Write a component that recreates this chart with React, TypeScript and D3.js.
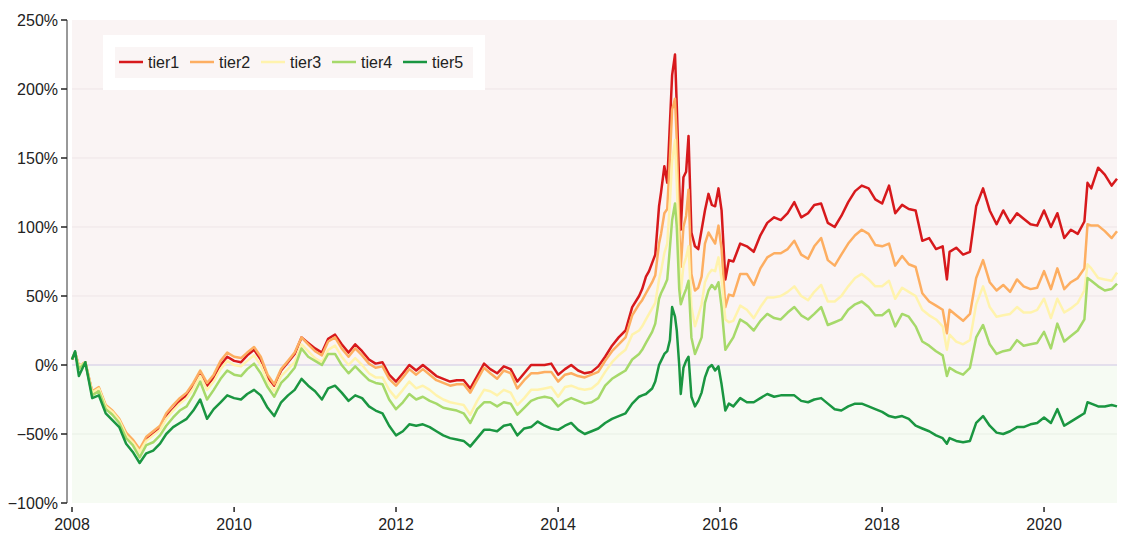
import React from "react";
import * as d3 from "d3";

const dates: string[] = [
  "2008-01-01","2008-01-15","2008-02-01","2008-03-01","2008-04-01","2008-05-01","2008-06-01","2008-07-01","2008-08-01","2008-09-01","2008-10-01","2008-11-01","2008-12-01",
  "2009-01-01","2009-02-01","2009-03-01","2009-04-01","2009-05-01","2009-06-01","2009-07-01","2009-08-01","2009-09-01","2009-10-01","2009-11-01","2009-12-01",
  "2010-01-01","2010-02-01","2010-03-01","2010-04-01","2010-05-01","2010-06-01","2010-07-01","2010-08-01","2010-09-01","2010-10-01","2010-11-01","2010-12-01",
  "2011-01-01","2011-02-01","2011-03-01","2011-04-01","2011-05-01","2011-06-01","2011-07-01","2011-08-01","2011-09-01","2011-10-01","2011-11-01","2011-12-01",
  "2012-01-01","2012-02-01","2012-03-01","2012-04-01","2012-05-01","2012-06-01","2012-07-01","2012-08-01","2012-09-01","2012-10-01","2012-11-01","2012-12-01",
  "2013-01-01","2013-02-01","2013-03-01","2013-04-01","2013-05-01","2013-06-01","2013-07-01","2013-08-01","2013-09-01","2013-10-01","2013-11-01","2013-12-01",
  "2014-01-01","2014-02-01","2014-03-01","2014-04-01","2014-05-01","2014-06-01","2014-07-01","2014-08-01","2014-09-01","2014-10-01","2014-11-01","2014-12-01",
  "2015-01-01","2015-01-15","2015-02-01","2015-02-15","2015-03-01","2015-03-15","2015-04-01","2015-04-10","2015-04-25","2015-05-08","2015-05-20","2015-05-30","2015-06-12","2015-06-20","2015-07-01","2015-07-08","2015-07-20","2015-08-01","2015-08-12","2015-08-25","2015-09-10","2015-09-25","2015-10-10","2015-10-25","2015-11-10","2015-11-25","2015-12-10","2015-12-25","2016-01-08","2016-01-25","2016-02-10",
  "2016-03-01","2016-04-01","2016-05-01","2016-06-01","2016-07-01","2016-08-01","2016-09-01","2016-10-01","2016-11-01","2016-12-01",
  "2017-01-01","2017-02-01","2017-03-01","2017-04-01","2017-05-01","2017-06-01","2017-07-01","2017-08-01","2017-09-01","2017-10-01","2017-11-01","2017-12-01",
  "2018-01-01","2018-02-01","2018-03-01","2018-04-01","2018-05-01","2018-06-01","2018-07-01","2018-08-01","2018-09-01","2018-10-01",
  "2018-10-20",
  "2018-11-01","2018-12-01",
  "2019-01-01","2019-02-01","2019-03-01","2019-04-01","2019-05-01","2019-06-01","2019-07-01","2019-08-01","2019-09-01","2019-10-01","2019-11-01","2019-12-01",
  "2020-01-01","2020-02-01","2020-03-01","2020-04-01","2020-05-01","2020-06-01","2020-07-01",
  "2020-07-15",
  "2020-08-01","2020-09-01","2020-10-01","2020-11-01",
  "2020-11-25",
];

const tier1: number[] = [
  4, 9, -1, 2, -20, -17, -30, -34, -40, -50, -55, -62, -54,
  -50, -46, -37, -32, -26, -22, -15, -6, -15, -9, 0, 6,
  3, 2, 7, 11, 4, -9, -15, -4, 2, 8, 20, 16,
  12, 9, 19, 22, 15, 9, 15, 10, 4, 1, 2, -7,
  -12, -6, 0, -4, 0, -4, -8, -10, -12, -11, -11, -17,
  -8, 1, -3, -6, -1, -3, -12, -6, 0, 0, 0, 1,
  -7, -3, 0, -4, -6, -5, -1, 6, 14, 20, 25, 42,
  50, 55, 64, 68, 74, 80, 115, 125, 144, 132, 175, 210, 225, 188, 130, 98, 136, 140, 166, 96, 86, 84, 98, 112, 124, 116, 115, 128, 112, 62, 76,
  75, 88, 86, 82, 94, 103, 107, 105, 110, 118,
  107, 110, 116, 117, 103, 100, 108, 118, 126, 130, 128, 120,
  117, 130, 110, 116, 113, 112, 90, 92, 84, 86,
  62,
  82, 85,
  80, 82, 115, 128, 112, 102, 112, 103, 110, 106, 102, 101,
  112, 100, 110, 92, 98, 95, 104,
  132,
  128, 143, 138, 130,
  135,
];

const tier2: number[] = [
  4, 9, -1, 2, -19, -16, -29, -33, -39, -49, -54, -61, -52,
  -48, -44, -35, -29, -24, -20, -13, -4, -13, -7, 3, 9,
  6, 5, 9, 13, 6, -7, -14, -3, 3, 9, 20, 15,
  10, 7, 17, 20, 12, 6, 12, 7, 1, -2, -1, -10,
  -15, -9, -3, -7, -3, -7, -11, -13, -15, -14, -14, -20,
  -11, -2, -6, -10, -4, -6, -17, -11, -6, -6, -5, -5,
  -12, -7, -6, -8, -9, -7, -5, 3, 10, 15, 20, 36,
  44, 47, 52, 56, 60, 65, 88, 95, 110, 113, 150, 185, 193, 163, 100, 71, 100, 108, 127, 66, 54, 56, 64, 88, 96, 92, 88, 101, 84, 42, 51,
  50, 66, 66, 58, 70, 78, 81, 81, 84, 90,
  80, 77, 86, 92, 76, 72, 80, 88, 94, 98, 95, 87,
  86, 88, 72, 79, 73, 71, 52, 46, 43, 40,
  23,
  40, 36,
  32, 37, 63, 76, 60, 54, 58, 53, 62, 57, 55, 56,
  68, 55, 70, 55, 60, 63, 70,
  102,
  101, 101, 97, 92,
  97,
];

const tier3: number[] = [
  5, 9, -1, 2, -20, -17, -30, -34, -40, -51, -56, -63, -55,
  -51, -47, -39, -33, -28, -24, -17, -8, -18, -12, -3, 3,
  0, -1, 3, 7, 0, -12, -19, -8, -3, 2, 15, 10,
  5, 2, 11, 14, 6, 0, 5, 0, -6, -9, -9, -18,
  -24, -18, -12, -17, -15, -18, -22, -25, -27, -28, -29, -36,
  -26, -18, -19, -22, -18, -20, -29, -24, -18, -18, -17, -16,
  -23, -16, -15, -17, -18, -17, -13, -5, 2, 7, 11, 22,
  25, 28, 33, 37, 41, 45, 62, 68, 81, 88, 118, 148, 163, 132, 78, 52, 72, 78, 86, 42, 28, 36, 44, 60, 66, 69, 68, 78, 62, 33, 31,
  32, 43, 40, 34, 42, 49, 49, 50, 53, 57,
  50, 47, 53, 58, 46, 46, 50, 57, 63, 66, 62, 57,
  57, 61, 48, 56, 53, 50, 40, 36, 33, 28,
  11,
  22, 17,
  15, 18, 44, 57, 42, 35, 36, 37, 42, 38, 38, 40,
  48, 34, 48, 38, 41, 45, 54,
  73,
  70, 63, 62, 61,
  67,
];

const tier4: number[] = [
  4, 9, -3, 2, -22, -19, -32, -36, -42, -53, -58, -67, -58,
  -56, -51, -44, -38, -33, -30, -22, -12, -25, -18, -10, -4,
  -7, -8, -3, 1, -6, -16, -23, -13, -8, -2, 12, 6,
  3, 0, 8, 8, 0, -6, -1, -6, -11, -13, -14, -25,
  -32, -27, -21, -25, -23, -26, -28, -31, -32, -33, -35, -42,
  -32, -27, -27, -30, -27, -28, -36, -31, -26, -24, -23, -24,
  -30, -26, -24, -26, -28, -27, -24, -15, -10, -7, -4, 4,
  8, 11, 16, 20, 24, 30, 48, 52, 57, 62, 85, 105, 117, 100, 55, 44, 50, 55, 61, 20, 8, 14, 20, 45, 54, 58, 55, 60, 42, 11, 15,
  20, 33, 30, 25, 32, 37, 34, 33, 38, 42,
  36, 33, 37, 42, 29, 31, 33, 40, 44, 46, 42, 36,
  36, 40, 28, 37, 35, 28, 17, 14, 10, 7,
  -8,
  -2, -5,
  -7, -2, 20, 29, 15, 8, 10, 11, 18, 14, 15, 16,
  24, 12, 30, 17, 21, 25, 33,
  63,
  61, 57, 54, 55,
  59,
];

const tier5: number[] = [
  4, 10, -8, 2, -24, -22, -35, -40, -45, -57, -63, -71, -64,
  -62, -57, -50, -45, -42, -39, -33, -25, -39, -32, -27, -22,
  -24, -25, -21, -18, -22, -31, -37, -27, -22, -18, -10, -15,
  -19, -25, -17, -15, -20, -26, -22, -24, -30, -33, -35, -44,
  -51, -48, -43, -44, -43, -45, -48, -51, -53, -54, -55, -59,
  -53, -47, -47, -48, -44, -43, -51, -46, -45, -41, -44, -46,
  -47, -44, -42, -47, -50, -48, -46, -42, -39, -37, -35, -28,
  -23, -22, -21, -19, -17, -12, 0, 3, 8, 10, 18, 42, 35, 25, 0, -21, -2, 3, 6, -23, -30, -26, -20, -9, -2, 0, -4, -1, -14, -33, -28,
  -30, -24, -27, -27, -24, -21, -23, -22, -22, -22,
  -26, -27, -25, -24, -28, -32, -33, -30, -28, -28, -30, -32,
  -34, -37, -38, -37, -39, -44, -46, -48, -51, -53,
  -57,
  -53, -55,
  -56, -55, -42, -37, -44, -49, -50, -48, -45, -45, -43, -42,
  -38, -42, -32, -44, -41, -38, -35,
  -27,
  -28, -30, -30, -29,
  -30,
];

const seriesNames: string[] = ["tier1", "tier2", "tier3", "tier4", "tier5"];
const seriesValues: number[][] = [tier1, tier2, tier3, tier4, tier5];
const seriesColors: string[] = ["#d7191c", "#fdae61", "#fff3ad", "#a6d96a", "#1a9641"];

const yTicks: number[] = [-100, -50, 0, 50, 100, 150, 200, 250];
const xTickYears: number[] = [2008, 2010, 2012, 2014, 2016, 2018, 2020];

const W = 1125;
const H = 549;
const left = 72;
const right = 1117;
const top = 20;
const bottom = 503;

export default function App() {
  const parse = d3.timeParse("%Y-%m-%d");
  const parsed = dates.map((d) => parse(d) as Date);
  const x = d3
    .scaleTime()
    .domain([parsed[0], parsed[parsed.length - 1]])
    .range([left, right]);
  const y = d3.scaleLinear().domain([-100, 250]).range([bottom, top]);
  const line = d3
    .line<number>()
    .x((_, i) => x(parsed[i]))
    .y((v) => y(v));
  const y0 = y(0);
  const font = "'Liberation Sans', Arial, sans-serif";

  return (
    <svg
      width={W}
      height={H}
      style={{ position: "absolute", left: 0, top: 0, background: "#fff" }}
      fontFamily={font}
    >
      <rect x={left} y={top} width={right - left} height={y0 - top} fill="#faf4f4" />
      <rect x={left} y={y0} width={right - left} height={bottom - y0} fill="#f6fbf3" />
      {yTicks
        .filter((t) => t !== 0 && t !== 250 && t !== -100)
        .map((t) => (
          <line
            key={"g" + t}
            x1={left}
            x2={right}
            y1={y(t)}
            y2={y(t)}
            stroke={t > 0 ? "#eee5e7" : "#e8efe5"}
            strokeWidth={1}
          />
        ))}
      <line x1={left} x2={right} y1={y0} y2={y0} stroke="#dcd7ea" strokeWidth={1.5} />

      {seriesValues.map((vals, i) => (
        <path
          key={seriesNames[i]}
          d={line(vals) || ""}
          fill="none"
          stroke={seriesColors[i]}
          strokeWidth={2.5}
          strokeLinejoin="round"
        />
      ))}

      {/* y axis */}
      <line x1={67} x2={67} y1={top} y2={bottom} stroke="#333" strokeWidth={1} />
      {yTicks.map((t) => (
        <g key={"y" + t}>
          <line x1={61} x2={67} y1={y(t)} y2={y(t)} stroke="#222" strokeWidth={1.5} />
          <text x={58} y={y(t)} dy="0.35em" textAnchor="end" fontSize={16} fill="#222">
            {t === -100 || t === -50 ? "\u2212" + Math.abs(t) + "%" : t + "%"}
          </text>
        </g>
      ))}

      {/* x axis */}
      {xTickYears.map((yr) => {
        const xx = x(new Date(yr, 0, 1));
        return (
          <g key={"x" + yr}>
            <line x1={xx} x2={xx} y1={507} y2={512} stroke="#222" strokeWidth={1.5} />
            <text x={xx} y={530} textAnchor="middle" fontSize={16} fill="#222">
              {yr}
            </text>
          </g>
        );
      })}

      {/* legend */}
      <rect x={103} y={35} width={382} height={55} fill="#ffffff" />
      <rect x={115} y={47} width={358} height={31} fill="#faf5f5" />
      {seriesNames.map((n, i) => {
        const lx = 119 + i * 71;
        return (
          <g key={"l" + n}>
            <line x1={lx} x2={lx + 24} y1={62} y2={62} stroke={seriesColors[i]} strokeWidth={2.5} />
            <text x={lx + 29} y={62} dy="0.35em" fontSize={16} fill="#222">
              {n}
            </text>
          </g>
        );
      })}
    </svg>
  );
}
